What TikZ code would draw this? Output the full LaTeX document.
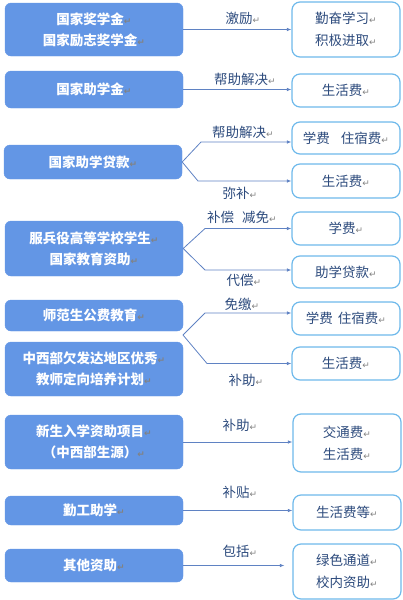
\documentclass[tikz,border=0pt]{standalone}
\usepackage{fontspec}
\setmainfont{Noto Sans CJK SC}
\newfontfamily\markfont{DejaVu Sans}
\usetikzlibrary{arrows.meta}
\definecolor{fundblue}{RGB}{99,150,229}
\definecolor{itemline}{RGB}{110,185,235}
\definecolor{itemtext}{RGB}{45,75,125}
\definecolor{linkblue}{RGB}{95,130,195}
\definecolor{markgray}{RGB}{130,130,130}
\newcommand{\pmark}{{\markfont\fontsize{9}{9}\selectfont\textcolor{markgray}{↵}}}

\begin{document}
\begin{tikzpicture}[x=1pt, y=-1pt,
  fund/.style={fill=fundblue, draw=fundblue, rounded corners=6pt, minimum width=178pt,
    text=white, font=\bfseries\fontsize{13.5}{21}\selectfont, align=center, inner sep=0pt},
  item/.style={fill=white, draw=itemline, line width=1.2pt, rounded corners=8pt, minimum width=108pt,
    text=itemtext, font=\fontsize{13.5}{22}\selectfont, align=center, inner sep=0pt},
  note/.style={text=itemtext, font=\fontsize{13.5}{16}\selectfont, inner sep=0pt},
  link/.style={draw=linkblue, line width=0.8pt, -{Latex[length=4.5pt,width=3.5pt]}}]
\useasboundingbox (0,0) rectangle (403,600);

\node[fund, minimum height=53pt] (natl) at (94,29.5) {国家奖学金\pmark\\国家励志奖学金\pmark};
\node[fund, minimum height=37pt] (natlaid) at (94,89.5) {国家助学金\pmark};
\node[fund, minimum height=34pt] (loan) at (93,162) {国家助学贷款\pmark};
\node[fund, minimum height=55pt] (army) at (94,248.5) {服兵役高等学校学生\pmark\\国家教育资助\pmark};
\node[fund, minimum height=31pt] (normal) at (94,315.5) {师范生公费教育\pmark};
\node[fund, minimum height=54pt] (west) at (94,369) {中西部欠发达地区优秀\pmark\\教师定向培养计划\pmark};
\node[fund, minimum height=54pt] (fresh) at (94,442) {新生入学资助项目\pmark\\（中西部生源）\pmark};
\node[fund, minimum height=29pt] (work) at (94,510.5) {勤工助学\pmark};
\node[fund, minimum height=33pt] (other) at (94,565.5) {其他资助\pmark};

\node[item, minimum height=55pt] (study) at (346,29.5) {勤奋学习\pmark\\积极进取\pmark};
\node[item, minimum height=33pt] (living2) at (346,90.5) {生活费\pmark};
\node[item, minimum height=32pt] (fee3) at (346,138) {学费\hspace{11pt}住宿费\pmark};
\node[item, minimum height=34pt] (living3) at (346,181) {生活费\pmark};
\node[item, minimum height=33pt] (fee4) at (346,228.5) {学费\pmark};
\node[item, minimum height=32pt] (loan4) at (346,272) {助学贷款\pmark};
\node[item, minimum height=33pt] (fee5) at (346,318.5) {学费\hspace{5pt}住宿费\pmark};
\node[item, minimum height=33pt] (living5) at (346,363.5) {生活费\pmark};
\node[item, minimum height=58pt] (travel) at (347,443) {交通费\pmark\\生活费\pmark};
\node[item, minimum height=35pt] (living8) at (347,512.5) {生活费等\pmark};
\node[item, minimum height=55pt] (green) at (347,571.5) {绿色通道\pmark\\校内资助\pmark};

\draw[link] (natl.east) -- (natl.east -| study.west);
\draw[link] (natlaid.east) -- (natlaid.east -| living2.west);
\draw[link] (fresh.east) -- (fresh.east -| travel.west);
\draw[link] (work.east) -- (work.east -| living8.west);
\draw[link, shorten >=8pt] (other.east) -- (other.east -| green.west);

\coordinate (loanup) at (201,142);
\coordinate (loandn) at (198,181);
\draw[link] (loan.east) -- (loanup) -- ([yshift=-4pt]fee3.west);
\draw[link] (loan.east) -- (loandn) -- (living3.west);

\coordinate (armyup) at (205,228.5);
\coordinate (armydn) at (205,270);
\draw[link] (army.east) -- (armyup) -- (fee4.west);
\draw[link] (army.east) -- (armydn) -- ([yshift=2pt]loan4.west);

\coordinate (teach) at (183,335);
\coordinate (teachup) at (205,313);
\coordinate (teachdn) at (207,363.5);
\draw[link] (teach) -- (teachup) -- ([yshift=5.5pt]fee5.west);
\draw[link] (teach) -- (teachdn) -- (living5.west);

\node[note] (n1) at (243,18) {激励\pmark};
\node[note] (n2) at (245,79) {帮助解决\pmark};
\node[note] (n3) at (243,132) {帮助解决\pmark};
\node[note] (n4) at (240,193) {弥补\pmark};
\node[note] (n5) at (242,217) {补偿\hspace{8pt}减免\pmark};
\node[note] (n6) at (244,280) {代偿\pmark};
\node[note] (n7) at (242,304) {免缴\pmark};
\node[note] (n8) at (246,380) {补助\pmark};
\node[note] (n9) at (240,425) {补助\pmark};
\node[note] (n10) at (240,492) {补贴\pmark};
\node[note] (n11) at (240,551) {包括\pmark};

\end{tikzpicture}
\end{document}
